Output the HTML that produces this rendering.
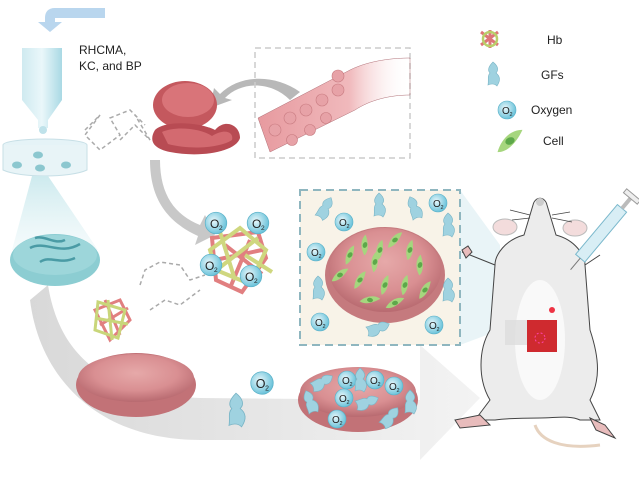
<!DOCTYPE html>
<html><head><meta charset="utf-8"><style>
html,body{margin:0;padding:0;background:#fff;width:639px;height:478px;overflow:hidden}
svg{display:block}
text{font-family:"Liberation Sans",sans-serif}
</style></head><body>
<svg width="639" height="478" viewBox="0 0 639 478" xmlns="http://www.w3.org/2000/svg">
<defs>
<linearGradient id="arr" x1="0" y1="0" x2="1" y2="0"><stop offset="0" stop-color="#d4d4d4"/><stop offset="1" stop-color="#f2f2f2"/></linearGradient>
<radialGradient id="rbc" cx="0.5" cy="0.4" r="0.6"><stop offset="0" stop-color="#e6a9a9"/><stop offset="0.6" stop-color="#d98f92"/><stop offset="1" stop-color="#b86a70"/></radialGradient>
<radialGradient id="o2" cx="0.4" cy="0.4" r="0.6"><stop offset="0" stop-color="#e8f7fb"/><stop offset="1" stop-color="#6cc3da"/></radialGradient>
<linearGradient id="tube" x1="0" y1="0" x2="1" y2="0"><stop offset="0" stop-color="#cfeaf0"/><stop offset="0.5" stop-color="#eaf7fa"/><stop offset="1" stop-color="#a9d9e4"/></linearGradient>
<linearGradient id="cone" x1="0" y1="0" x2="0" y2="1"><stop offset="0" stop-color="#cdeaee"/><stop offset="1" stop-color="#eaf6f8" stop-opacity="0.5"/></linearGradient>
<linearGradient id="vess" x1="0" y1="0" x2="1" y2="0"><stop offset="0" stop-color="#e79a9f"/><stop offset="0.6" stop-color="#f0b9bc"/><stop offset="1" stop-color="#fff" stop-opacity="0"/></linearGradient>
<g id="ox"><circle r="9" fill="url(#o2)" stroke="#5ab1c8" stroke-width="0.6"/><text x="-5" y="4" font-size="10" fill="#222">O</text><text x="2.5" y="6" font-size="5.5" fill="#222">2</text></g>
<path id="gf" d="M0,-12 C5,-8 6,-4 3,-1 C7,2 8,6 4,12 C1,9 -3,10 -5,11 C-4,6 -6,2 -3,-1 C-6,-4 -4,-8 0,-12Z" fill="#9fd2e0" stroke="#7ab5c6" stroke-width="0.6"/>
<g id="cell"><path d="M-10,3 C-4,-4 4,-6 10,-3 C4,2 -4,6 -10,3Z" fill="#a6d67e"/><ellipse rx="3" ry="2.2" fill="#5da84a"/></g>
</defs>

<path d="M48,285 C60,360 110,395 200,398 L420,400 L420,345 L480,398 L420,460 L420,440 L200,440 C100,440 40,380 30,300 Z" fill="url(#arr)" opacity="0.9"/>
<path d="M160,160 C160,195 175,215 200,225 L205,215 L215,235 L195,245 L198,236 C168,222 150,200 150,160Z" fill="#c8c8c8"/>
<path d="M290,100 C270,80 240,82 225,98 L232,100 L210,108 L214,88 L220,94 C240,74 275,74 300,92Z" fill="#b8b8b8"/>

<path d="M105,8 L55,8 C48,8 45,12 45,18 L45,22 L38,22 L50,32 L62,22 L55,22 L55,18 L105,18Z" fill="#b9d6ee"/>
<path d="M22,48 L62,48 L62,100 L48,120 L48,128 L38,128 L38,120 L22,100Z" fill="url(#tube)"/>
<circle cx="43" cy="130" r="4" fill="#bfe2ea"/>
<text x="79" y="54" font-size="12" fill="#222">RHCMA,</text>
<text x="79" y="70" font-size="12" fill="#222">KC, and BP</text>
<ellipse cx="45" cy="145" rx="42" ry="6" fill="#e5f3f7" stroke="#c7dfe6"/>
<path d="M3,145 L3,170 C20,178 70,178 87,170 L87,145" fill="#e8f4f7" stroke="#c7dfe6"/>
<ellipse cx="38" cy="155" rx="5" ry="3.5" fill="#8cc7cf"/>
<ellipse cx="17" cy="165" rx="5" ry="3.5" fill="#8cc7cf"/>
<ellipse cx="40" cy="168" rx="5" ry="3.5" fill="#8cc7cf"/>
<ellipse cx="66" cy="165" rx="5" ry="3.5" fill="#8cc7cf"/>
<path d="M32,176 L48,176 L98,250 L12,250Z" fill="url(#cone)"/>
<ellipse cx="55" cy="260" rx="45" ry="26" fill="#8ccdd2"/>
<ellipse cx="55" cy="255" rx="42" ry="20" fill="#9dd6da"/>
<path d="M30,248 C45,240 60,256 80,244 M40,262 C50,255 60,265 75,258 M35,238 C45,235 55,245 65,240" stroke="#4a9ba5" stroke-width="2.5" fill="none"/>

<g stroke="#aaa" stroke-width="1.5" fill="none" stroke-dasharray="4,3">
<path d="M85,130 L100,115 L85,135 L100,150 L120,135 L110,118 L130,110 L145,125"/>
<path d="M120,140 L135,125 L150,140 L135,115"/>
<path d="M140,285 L145,270 L160,262 L180,265 L190,280 L205,275"/>
<path d="M150,310 L165,300 L180,305 L200,290"/>
</g>

<ellipse cx="185" cy="105" rx="32" ry="24" fill="#c4585e"/>
<ellipse cx="188" cy="100" rx="26" ry="17" fill="#d97479"/>
<path d="M155,130 C165,120 200,122 215,130 C225,118 240,125 240,138 C236,152 200,158 170,152 C150,148 150,138 155,130Z" fill="#b84b53"/>
<path d="M162,132 C175,126 200,128 212,136 C225,128 234,132 232,140 C220,148 190,150 168,144Z" fill="#d36a70"/>

<rect x="255" y="48" width="155" height="110" fill="none" stroke="#ccc" stroke-width="1.5" stroke-dasharray="6,4"/>
<path d="M258,118 L350,70 C370,60 395,58 410,58 L410,95 C390,95 370,100 355,110 L270,152Z" fill="url(#vess)" stroke="#b07077" stroke-width="0.5"/>
<g fill="#e7a2a7" stroke="#c87b80" stroke-width="0.6">
<circle cx="275" cy="130" r="6"/><circle cx="290" cy="118" r="6"/><circle cx="306" cy="110" r="6"/><circle cx="322" cy="100" r="6"/><circle cx="338" cy="90" r="6"/><circle cx="338" cy="76" r="6"/><circle cx="292" cy="140" r="5.5"/><circle cx="310" cy="130" r="5.5"/><circle cx="326" cy="118" r="5.5"/></g>

<g transform="translate(490,39)"><path d="M-9,-7 L8,6 M-9,6 L8,-7 M0,-9 L0,9" stroke="#d77" stroke-width="3"/><circle r="7" fill="none" stroke="#b9cf6a" stroke-width="2.5"/></g>
<text x="547" y="44" font-size="12" fill="#222">Hb</text>
<use href="#gf" transform="translate(493,74)"/>
<text x="541" y="79" font-size="12" fill="#222">GFs</text>
<use href="#ox" transform="translate(507,110)"/>
<text x="531" y="114" font-size="12" fill="#222">Oxygen</text>
<g transform="translate(510,141) rotate(-25) scale(1.6)"><use href="#cell"/></g>
<text x="543" y="145" font-size="12" fill="#222">Cell</text>

<g stroke-width="4" fill="none">
<path d="M212,238 L258,232 L266,258 L242,292 L216,280 Z M225,245 L262,274 M230,288 L250,240 M215,260 L262,250" stroke="#e17f80"/>
<path d="M210,250 L240,228 L266,250 L250,284 L216,270 Z M220,232 L235,280 M245,255 L272,272 M214,272 L258,238" stroke="#cfd77f"/>
</g>
<use href="#ox" transform="translate(216,223) scale(1.2)"/>
<use href="#ox" transform="translate(258,223) scale(1.2)"/>
<use href="#ox" transform="translate(211,265) scale(1.2)"/>
<use href="#ox" transform="translate(251,276) scale(1.2)"/>

<g stroke-width="3" fill="none">
<path d="M95,310 L120,300 L130,320 L110,340 Z M100,325 L128,308 M105,300 L120,335" stroke="#e17f80"/>
<path d="M98,302 L125,310 L118,338 L95,330 Z M108,300 L112,340 M95,318 L128,324" stroke="#c9d67a"/>
</g>

<path d="M460,190 L500,245 L500,330 L460,345Z" fill="#dff0f4" opacity="0.7"/>
<rect x="300" y="190" width="160" height="155" fill="#f8f3e8" stroke="#8fb6bf" stroke-width="2" stroke-dasharray="8,5"/>
<ellipse cx="385" cy="275" rx="60" ry="48" fill="#c57a7e"/>
<ellipse cx="385" cy="270" rx="56" ry="42" fill="url(#rbc)"/>
<g>
<use href="#cell" transform="translate(350,255) rotate(-50)"/><use href="#cell" transform="translate(365,245) rotate(-70)"/><use href="#cell" transform="translate(380,250) rotate(-60)"/><use href="#cell" transform="translate(395,240) rotate(-30)"/><use href="#cell" transform="translate(410,250) rotate(-60)"/><use href="#cell" transform="translate(420,265) rotate(-70)"/><use href="#cell" transform="translate(360,280) rotate(-40)"/><use href="#cell" transform="translate(385,285) rotate(-55)"/><use href="#cell" transform="translate(405,285) rotate(-60)"/><use href="#cell" transform="translate(340,275) rotate(-20)"/><use href="#cell" transform="translate(370,300) rotate(10)"/><use href="#cell" transform="translate(395,303) rotate(-10)"/><use href="#cell" transform="translate(425,290) rotate(-40)"/><use href="#cell" transform="translate(375,262) rotate(-65)"/></g>
<use href="#ox" transform="translate(344,222)"/><use href="#ox" transform="translate(438,203)"/><use href="#ox" transform="translate(316,252)"/><use href="#ox" transform="translate(320,322)"/><use href="#ox" transform="translate(434,325)"/>
<use href="#gf" transform="translate(325,208) rotate(30)"/><use href="#gf" transform="translate(379,205)"/><use href="#gf" transform="translate(414,208) rotate(-20)"/><use href="#gf" transform="translate(318,288)"/><use href="#gf" transform="translate(448,290)"/><use href="#gf" transform="translate(378,328) rotate(70)"/><use href="#gf" transform="translate(448,225)"/>

<ellipse cx="136" cy="385" rx="60" ry="32" fill="#c27277"/>
<ellipse cx="136" cy="378" rx="58" ry="24" fill="url(#rbc)"/>
<use href="#ox" transform="translate(262,383) scale(1.25)"/>
<use href="#gf" transform="translate(236,410) scale(1.4)"/>
<ellipse cx="358" cy="400" rx="60" ry="32" fill="#c27277"/>
<ellipse cx="358" cy="392" rx="58" ry="25" fill="url(#rbc)"/>
<use href="#ox" transform="translate(347,380)"/><use href="#ox" transform="translate(375,380)"/><use href="#ox" transform="translate(394,386)"/><use href="#ox" transform="translate(344,398)"/><use href="#ox" transform="translate(337,419)"/>
<use href="#gf" transform="translate(310,402) rotate(-20)"/><use href="#gf" transform="translate(360,380)"/><use href="#gf" transform="translate(367,402) rotate(70)"/><use href="#gf" transform="translate(410,402)"/><use href="#gf" transform="translate(390,417) rotate(40)"/><use href="#gf" transform="translate(322,382) rotate(60)"/>

<g stroke="#444" stroke-width="1" fill="#ececec">
<path d="M535,425 C540,440 560,450 600,445" fill="none" stroke="#e6d2bf" stroke-width="3"/>
<path d="M533,205 C535,196 545,196 547,205 L556,235 C575,240 585,255 585,265 L590,330 C600,360 600,380 590,400 L600,420 L580,420 C570,415 555,418 540,418 C525,418 510,418 495,420 L475,420 L490,400 C478,380 478,350 490,330 L495,265 C495,255 505,240 524,235Z"/>
<ellipse cx="505" cy="227" rx="12" ry="8" fill="#f3dcdc" stroke="#bbb"/>
<ellipse cx="575" cy="228" rx="12" ry="8" fill="#f3dcdc" stroke="#bbb"/>
<path d="M495,265 L470,255 L462,252" fill="none"/>
<path d="M585,265 L600,255" fill="none"/>
<path d="M462,250 L468,246 L472,252 L466,258Z" fill="#e8bcbc"/>
<path d="M455,420 L480,415 L490,425 L460,428Z" fill="#e8bcbc"/>
<path d="M590,418 L605,425 L615,438 L596,430Z" fill="#e8bcbc"/>
</g>
<ellipse cx="540" cy="340" rx="25" ry="60" fill="#f9f9f9"/>
<circle cx="540" cy="202" r="4" fill="#ccc"/>
<path d="M510,210 L530,215 M512,220 L530,218 M552,215 L570,212 M552,218 L572,222" stroke="#444" stroke-width="0.8"/>
<rect x="505" y="320" width="25" height="25" fill="#ddd" opacity="0.8"/>
<rect x="527" y="320" width="30" height="32" fill="#cf2a2f"/>
<circle cx="540" cy="338" r="5" fill="none" stroke="#f4a" stroke-dasharray="2,2"/>
<circle cx="552" cy="310" r="3" fill="#e34"/>
<g transform="translate(577,262) rotate(40)">
<rect x="-6" y="-70" width="12" height="65" fill="#d8eef5" stroke="#7ab8cc"/>
<rect x="-2" y="-84" width="4" height="14" fill="#bbb"/>
<rect x="-9" y="-88" width="18" height="5" fill="#eee" stroke="#999"/>
<line x1="0" y1="-5" x2="0" y2="10" stroke="#777"/>
</g>
</svg>
</body></html>
